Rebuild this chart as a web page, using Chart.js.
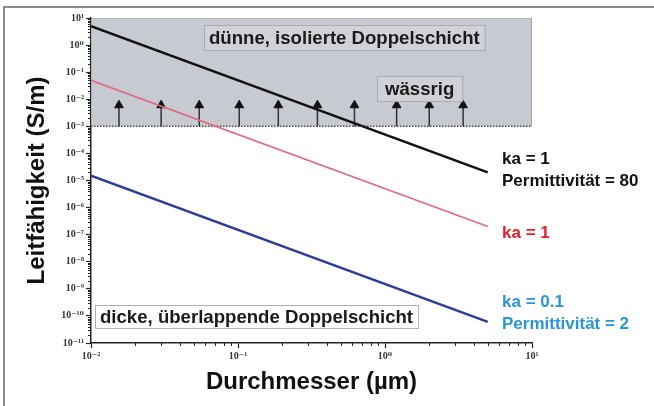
<!DOCTYPE html>
<html>
<head>
<meta charset="utf-8">
<script src="https://cdn.jsdelivr.net/npm/chart.js@4"></script>
<style>
  html, body { margin: 0; padding: 0; background: #fff; }
  #wrap { position: absolute; left: 0; top: 0; width: 654px; height: 406px; }
</style>
</head>
<body>
<div id="wrap"><canvas id="chart" width="654" height="406"></canvas></div>
<script>
// decade ticks and their labels
const xTickValues = [0.01, 0.1, 1, 10];
const xTickLabels = ['10⁻²', '10⁻¹', '10⁰', '10¹'];
const yTickValues = [1e-11, 1e-10, 1e-9, 1e-8, 1e-7, 1e-6, 1e-5, 1e-4, 1e-3, 1e-2, 1e-1, 1, 10];
const yTickLabels = ['10⁻¹¹', '10⁻¹⁰', '10⁻⁹', '10⁻⁸', '10⁻⁷', '10⁻⁶', '10⁻⁵', '10⁻⁴', '10⁻³', '10⁻²', '10⁻¹', '10⁰', '10¹'];

// diameter (µm) at both ends of each curve
const lineX = [0.01, 5];
// conductivity (S/m)
const thinPerm80 = [5, 2e-5];      // ka = 1, permittivity 80
const thinKa1 = [0.05, 2e-7];      // ka = 1
const thickPerm2 = [1.5e-5, 6e-11]; // ka = 0.1, permittivity 2

// aqueous limit and the arrows pointing up from it
const aqueousLimit = 1e-3;
const arrowX = [0.0155, 0.030, 0.0545, 0.102, 0.188, 0.347, 0.62, 1.2, 2.0, 3.4];
const arrowTop = 6e-3;

const pts = (xs, ys) => xs.map((x, i) => ({ x: x, y: ys[i] }));

const shaft = [];
arrowX.forEach(x => {
  shaft.push({ x: x, y: aqueousLimit }, { x: x, y: arrowTop }, { x: x, y: null });
});

const SANS = "'Liberation Sans', Arial, sans-serif";
const SERIF = "'Liberation Serif', 'DejaVu Serif', serif";

function box(ctx, text, left, cy, h, fill, stroke, pad) {
  ctx.font = 'bold 18.6px ' + SANS;
  const w = ctx.measureText(text).width + pad * 2;
  ctx.fillStyle = fill;
  ctx.fillRect(left, cy - h / 2, w, h);
  ctx.strokeStyle = stroke;
  ctx.lineWidth = 1;
  ctx.strokeRect(left + 0.5, cy - h / 2 + 0.5, w, h);
  ctx.fillStyle = '#1a1a1a';
  ctx.textBaseline = 'middle';
  ctx.textAlign = 'left';
  ctx.fillText(text, left + pad, cy + 1);
}

const decor = {
  id: 'decor',
  afterDraw(chart) {
    const ctx = chart.ctx;
    const xs = chart.scales.x, ys = chart.scales.y;
    ctx.save();

    // minor log ticks
    ctx.strokeStyle = '#222';
    ctx.lineWidth = 1;
    ctx.beginPath();
    for (let i = 0; i < xTickValues.length - 1; i++) {
      for (let m = 2; m <= 9; m++) {
        const px = Math.round(xs.getPixelForValue(m * xTickValues[i])) + 0.5;
        ctx.moveTo(px, xs.top);
        ctx.lineTo(px, xs.top + 3);
      }
    }
    for (let i = 0; i < yTickValues.length - 1; i++) {
      for (let m = 2; m <= 9; m++) {
        const py = Math.round(ys.getPixelForValue(m * yTickValues[i])) + 0.5;
        ctx.moveTo(ys.right - 3, py);
        ctx.lineTo(ys.right, py);
      }
    }
    ctx.stroke();

    // region labels
    box(ctx, 'dünne, isolierte Doppelschicht', 204, 37.5, 25, '#d0d2d7', '#a9acb2', 5);
    box(ctx, 'wässrig', 377, 88.5, 25, '#d0d2d7', '#a9acb2', 8);
    box(ctx, 'dicke, überlappende Doppelschicht', 95, 316.5, 23, '#ffffff', '#b0b0b0', 5);

    // curve labels
    ctx.font = 'bold 17px ' + SANS;
    ctx.textAlign = 'left';
    ctx.textBaseline = 'middle';
    ctx.fillStyle = '#111';
    ctx.fillText('ka = 1', 502, 159);
    ctx.fillText('Permittivität = 80', 502, 181);
    ctx.fillStyle = '#e3202b';
    ctx.fillText('ka = 1', 502, 233);
    ctx.fillStyle = '#2b95d4';
    ctx.fillText('ka = 0.1', 502, 302);
    ctx.fillText('Permittivität = 2', 502, 324);

    // frame
    ctx.strokeStyle = '#8a8a8a';
    ctx.lineWidth = 2;
    ctx.beginPath();
    ctx.moveTo(4, 406);
    ctx.lineTo(4, 7);
    ctx.lineTo(654, 7);
    ctx.stroke();
    ctx.restore();
  }
};

new Chart(document.getElementById('chart'), {
  type: 'line',
  data: {
    datasets: [
      {
        // shaded region above the aqueous limit
        data: [{ x: 0.01, y: aqueousLimit }, { x: 0.01, y: 10 }, { x: 10, y: 10 }, { x: 10, y: aqueousLimit }],
        fill: 'shape',
        backgroundColor: '#c7cad1',
        borderColor: '#9a9da4',
        borderWidth: 1,
        pointRadius: 0,
        order: 10
      },
      {
        data: [{ x: 0.01, y: aqueousLimit }, { x: 10, y: aqueousLimit }],
        borderColor: '#4a4a4a',
        borderWidth: 1.5,
        borderDash: [1.5, 1.5],
        pointRadius: 0,
        fill: false,
        order: 8
      },
      {
        data: shaft,
        borderColor: '#333',
        borderWidth: 1.5,
        pointRadius: 0,
        spanGaps: false,
        fill: false,
        order: 6
      },
      {
        data: arrowX.map(x => ({ x: x, y: arrowTop })),
        showLine: false,
        pointStyle: 'triangle',
        pointRadius: 5,
        pointBackgroundColor: '#111',
        pointBorderColor: '#111',
        pointBorderWidth: 1,
        order: 5
      },
      {
        data: pts(lineX, thinPerm80),
        borderColor: '#111',
        borderWidth: 2.5,
        pointRadius: 0,
        fill: false,
        order: 1
      },
      {
        data: pts(lineX, thinKa1),
        borderColor: '#df6a84',
        borderWidth: 1.6,
        pointRadius: 0,
        fill: false,
        order: 2
      },
      {
        data: pts(lineX, thickPerm2),
        borderColor: '#2e3c97',
        borderWidth: 2.5,
        pointRadius: 0,
        fill: false,
        order: 3
      }
    ]
  },
  options: {
    responsive: false,
    animation: false,
    events: [],
    layout: { padding: { top: 18, right: 122, left: 0, bottom: 0 } },
    plugins: { legend: { display: false }, tooltip: { enabled: false } },
    scales: {
      x: {
        type: 'logarithmic',
        min: 0.01,
        max: 10,
        afterBuildTicks: s => { s.ticks = xTickValues.map(v => ({ value: v })); },
        afterFit: s => { s.height = 63; },
        ticks: {
          callback: (v, i) => xTickLabels[i],
          font: { family: SERIF, size: 10, weight: 'bold' },
          color: '#333',
          padding: 2,
          maxRotation: 0
        },
        grid: { drawOnChartArea: false, drawTicks: true, tickLength: 5, tickColor: '#222', tickWidth: 1.2 },
        border: { display: true, color: '#222', width: 1.5 },
        title: {
          display: true,
          text: 'Durchmesser (µm)',
          font: { family: SANS, size: 24, weight: 'bold' },
          color: '#111',
          padding: { top: 0, bottom: 9 }
        }
      },
      y: {
        type: 'logarithmic',
        min: 1e-11,
        max: 10,
        afterBuildTicks: s => { s.ticks = yTickValues.map(v => ({ value: v })); },
        afterFit: s => { s.width = 91; },
        ticks: {
          callback: (v, i) => yTickLabels[i],
          font: { family: SERIF, size: 10, weight: 'bold' },
          color: '#333',
          padding: 2
        },
        grid: { drawOnChartArea: false, drawTicks: true, tickLength: 5, tickColor: '#222', tickWidth: 1.2 },
        border: { display: true, color: '#222', width: 1.5 },
        title: {
          display: true,
          text: 'Leitfähigkeit (S/m)',
          font: { family: SANS, size: 24, weight: 'bold' },
          color: '#111',
          padding: { top: 23, bottom: 0 }
        }
      }
    }
  },
  plugins: [decor]
});
</script>
</body>
</html>
